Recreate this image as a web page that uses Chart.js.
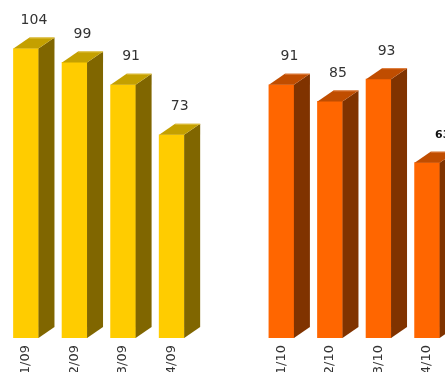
<!DOCTYPE html>
<html>
<head>
<meta charset="utf-8">
<script src="https://cdn.jsdelivr.net/npm/chart.js@4"></script>
<style>
  html, body { margin: 0; padding: 0; background: #fff; overflow: hidden; }
  #wrap { position: absolute; left: -34px; top: 0; width: 558px; height: 398px; }
</style>
</head>
<body>
<div id="wrap"><canvas id="chart"></canvas></div>
<script>
// data
const labels09 = ['01/09', '02/09', '03/09', '04/09'];
const values09 = [104, 99, 91, 73];
const labels10 = ['01/10', '02/10', '03/10', '04/10'];
const values10 = [91, 85, 93, 63];

// layout: second group starts this many slots after the first
const GROUP_START = 5.26;
const DEPTH_X = 16, DEPTH_Y = 11;

const pos09 = labels09.map((l, i) => i);
const pos10 = labels10.map((l, i) => GROUP_START + i);
const allPos = pos09.concat(pos10);
const allLabels = labels09.concat(labels10);

function labelFor(v) {
  const i = allPos.findIndex(p => Math.abs(p - v) < 1e-6);
  return i >= 0 ? allLabels[i] : '';
}

const bar3d = {
  id: 'bar3d',
  afterDatasetsDraw(chart) {
    const ctx = chart.ctx;
    chart.data.datasets.forEach((ds, di) => {
      const meta = chart.getDatasetMeta(di);
      meta.data.forEach((bar, i) => {
        const { x, y, base, width } = bar.getProps(['x', 'y', 'base', 'width'], true);
        const l = x - width / 2, r = x + width / 2;
        ctx.save();
        // side
        ctx.fillStyle = ds.sideColor;
        ctx.beginPath();
        ctx.moveTo(r, y); ctx.lineTo(r + DEPTH_X, y - DEPTH_Y);
        ctx.lineTo(r + DEPTH_X, base - DEPTH_Y); ctx.lineTo(r, base);
        ctx.closePath(); ctx.fill();
        // top
        ctx.fillStyle = ds.topColor;
        ctx.beginPath();
        ctx.moveTo(l, y); ctx.lineTo(l + DEPTH_X, y - DEPTH_Y);
        ctx.lineTo(r + DEPTH_X, y - DEPTH_Y); ctx.lineTo(r, y);
        ctx.closePath(); ctx.fill();
        ctx.strokeStyle = ds.edgeColor; ctx.lineWidth = 1;
        ctx.beginPath();
        ctx.moveTo(l + DEPTH_X, y - DEPTH_Y + 0.5); ctx.lineTo(r + DEPTH_X, y - DEPTH_Y + 0.5);
        ctx.stroke();
        // value label
        const val = ds.data[i].y;
        const small = di === chart.data.datasets.length - 1 && i === ds.data.length - 1;
        ctx.textBaseline = 'middle';
        if (small) {
          ctx.font = 'bold 11px "DejaVu Sans"';
          ctx.fillStyle = '#111';
          ctx.textAlign = 'left';
          ctx.fillText(String(val), x + DEPTH_X / 2, y - DEPTH_Y - 17);
        } else {
          ctx.font = '14px "DejaVu Sans"';
          ctx.fillStyle = '#333';
          ctx.textAlign = 'center';
          ctx.fillText(String(val), x + DEPTH_X / 2, y - DEPTH_Y - 17);
        }
        ctx.restore();
      });
    });
  }
};

new Chart(document.getElementById('chart'), {
  type: 'bar',
  data: {
    datasets: [
      {
        data: values09.map((v, i) => ({ x: pos09[i], y: v })),
        backgroundColor: '#FFCC00', topColor: '#C4A000', sideColor: '#806600', edgeColor: '#E0C040'
      },
      {
        data: values10.map((v, i) => ({ x: pos10[i], y: v })),
        backgroundColor: '#FF6600', topColor: '#C04D00', sideColor: '#803300', edgeColor: '#E08040'
      }
    ]
  },
  options: {
    responsive: true,
    maintainAspectRatio: false,
    animation: false,
    grouped: false,
    barThickness: 25,
    layout: { padding: { top: 4, left: 1, right: 2, bottom: 0 } },
    plugins: { legend: { display: false }, tooltip: { enabled: false } },
    scales: {
      x: {
        type: 'linear',
        min: -0.5,
        max: 9.5,
        grid: { display: false, drawTicks: false },
        border: { display: false },
        afterBuildTicks: s => { s.ticks = allPos.map(v => ({ value: v })); },
        afterFit: s => { s.height = 60; },
        ticks: {
          autoSkip: false,
          minRotation: 90,
          maxRotation: 90,
          padding: 7,
          color: '#333',
          font: { family: 'DejaVu Sans', size: 13 },
          callback: v => labelFor(v)
        }
      },
      y: {
        display: false,
        min: 0,
        max: 120
      }
    }
  },
  plugins: [bar3d]
});
</script>
</body>
</html>
